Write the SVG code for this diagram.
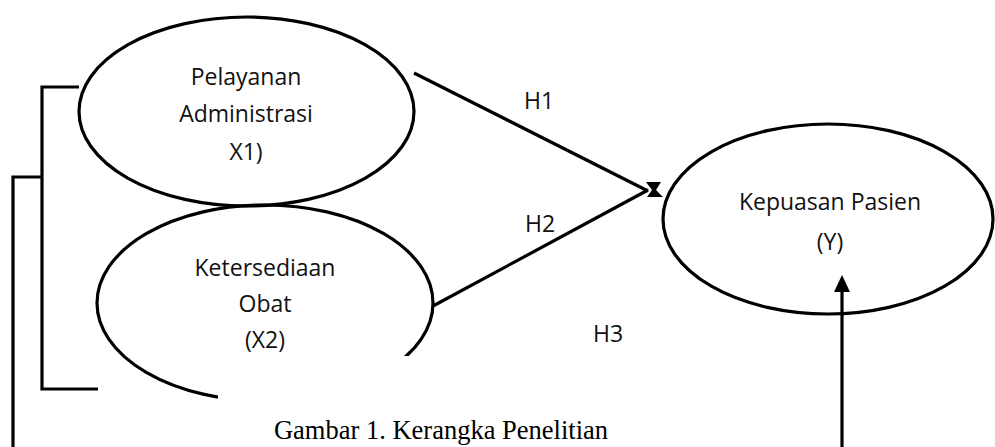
<svg xmlns="http://www.w3.org/2000/svg" width="995" height="447" viewBox="0 0 995 447">
  <style>
    .node { fill: none; stroke: #000; stroke-width: 3.2; }
    .lbl { font-family: "Open Sans", "DejaVu Sans", sans-serif; font-size: 23px; fill: #111; text-anchor: middle; }
    .cap { font-family: "Liberation Serif", "Times New Roman", serif; font-size: 26.5px; fill: #000; text-anchor: middle; }
    .ln { fill: none; stroke: #000; stroke-width: 3.2; }
  </style>
  <defs>
    <clipPath id="cut">
      <path d="M0,0 H995 V356 H218 V447 H0 Z"/>
    </clipPath>
    <marker id="arr" markerUnits="userSpaceOnUse" markerWidth="18" markerHeight="18" refX="17" refY="8" orient="auto">
      <path d="M0,0 L17,8 L0,16 Z" fill="#000"/>
    </marker>
  </defs>
  <rect width="995" height="447" fill="#fff"/>

  <g id="x1">
    <ellipse class="node" cx="246.5" cy="111.5" rx="167.5" ry="94.5"/>
    <text class="lbl" x="246" y="85">Pelayanan</text>
    <text class="lbl" x="246" y="122">Administrasi</text>
    <text class="lbl" x="246" y="160">X1)</text>
  </g>

  <g id="x2">
    <ellipse class="node" cx="265" cy="303" rx="168" ry="98" clip-path="url(#cut)"/>
    <text class="lbl" x="265" y="276">Ketersediaan</text>
    <text class="lbl" x="265" y="312">Obat</text>
    <text class="lbl" x="265" y="348">(X2)</text>
  </g>

  <g id="y">
    <ellipse class="node" cx="828" cy="219" rx="165" ry="95"/>
    <text class="lbl" x="830" y="210">Kepuasan Pasien</text>
    <text class="lbl" x="830" y="250">(Y)</text>
  </g>

  <g id="connectors">
    <line class="ln" x1="414" y1="73" x2="648" y2="191"/>
    <line class="ln" x1="433" y1="306" x2="648" y2="190"/>
    <polygon points="646,182 661,182 656,190 663,197 647,197 652,190" fill="#000"/>
    <line class="ln" x1="842" y1="447" x2="842" y2="291"/>
    <polygon points="842,275 834,292 850,292" fill="#000"/>
    <polyline class="ln" points="79,87 42,87 42,389 98,389"/>
    <polyline class="ln" points="42,177 13,177 13,447"/>
  </g>

  <g id="labels">
    <text class="lbl" x="539" y="109">H1</text>
    <text class="lbl" x="540" y="232">H2</text>
    <text class="lbl" x="608" y="342">H3</text>
  </g>

  <text class="cap" x="441" y="439">Gambar 1. Kerangka Penelitian</text>
</svg>
